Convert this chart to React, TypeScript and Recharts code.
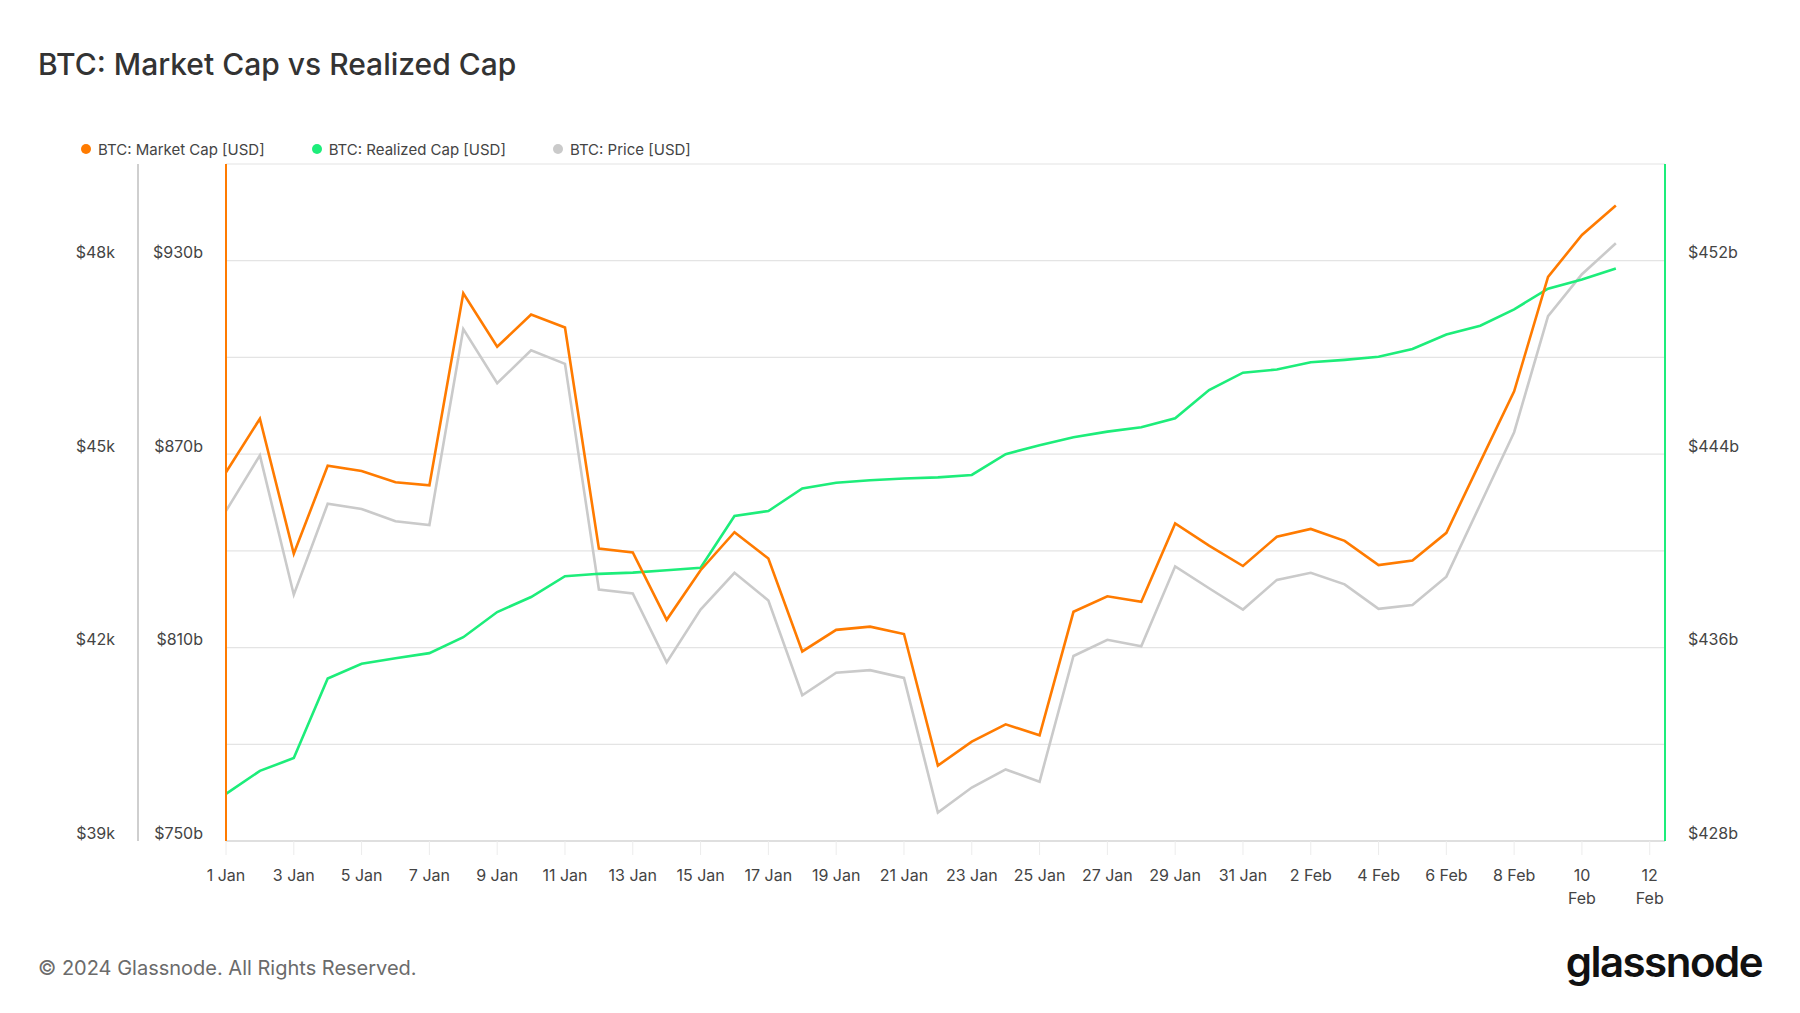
import React from "react";
import { LineChart, Line, XAxis, YAxis, CartesianGrid } from "recharts";

const dates = [
  "1 Jan", "2 Jan", "3 Jan", "4 Jan", "5 Jan", "6 Jan", "7 Jan", "8 Jan", "9 Jan", "10 Jan",
  "11 Jan", "12 Jan", "13 Jan", "14 Jan", "15 Jan", "16 Jan", "17 Jan", "18 Jan", "19 Jan", "20 Jan",
  "21 Jan", "22 Jan", "23 Jan", "24 Jan", "25 Jan", "26 Jan", "27 Jan", "28 Jan", "29 Jan", "30 Jan",
  "31 Jan", "1 Feb", "2 Feb", "3 Feb", "4 Feb", "5 Feb", "6 Feb", "7 Feb", "8 Feb", "9 Feb",
  "10 Feb", "11 Feb",
];

// BTC Market Cap, billions USD
const marketCap = [
  864.4, 881.0, 839.1, 866.4, 864.8, 861.3, 860.3, 919.9, 903.3, 913.3,
  909.3, 840.7, 839.5, 818.6, 834.0, 845.8, 837.6, 808.8, 815.5, 816.5,
  814.2, 773.4, 780.8, 786.2, 782.8, 821.1, 825.9, 824.2, 848.5, 841.6,
  835.3, 844.4, 846.8, 843.1, 835.6, 837.0, 845.6, 867.6, 889.5, 925.0,
  938.0, 947.1,
];

// BTC Realized Cap, billions USD
const realizedCap = [
  429.95, 430.9, 431.43, 434.72, 435.33, 435.56, 435.77, 436.43, 437.47, 438.09,
  438.95, 439.05, 439.1, 439.2, 439.3, 441.44, 441.65, 442.58, 442.82, 442.92,
  442.99, 443.04, 443.14, 444.0, 444.37, 444.7, 444.93, 445.11, 445.48, 446.65,
  447.37, 447.5, 447.8, 447.9, 448.03, 448.35, 448.95, 449.31, 449.99, 450.84,
  451.22, 451.68,
];

// BTC Price, thousands USD
const price = [
  44.12, 44.98, 42.82, 44.23, 44.15, 43.96, 43.9, 46.94, 46.1, 46.61,
  46.4, 42.9, 42.84, 41.77, 42.59, 43.16, 42.73, 41.26, 41.61, 41.65,
  41.53, 39.44, 39.83, 40.11, 39.92, 41.87, 42.12, 42.02, 43.26, 42.92,
  42.59, 43.05, 43.16, 42.98, 42.6, 42.66, 43.1, 44.22, 45.34, 47.14,
  47.79, 48.27,
];

const xTicks = [0, 2, 4, 6, 8, 10, 12, 14, 16, 18, 20, 22, 24, 26, 28, 30, 32, 34, 36, 38, 40, 42];
const xTickLabels = [
  "1 Jan", "3 Jan", "5 Jan", "7 Jan", "9 Jan", "11 Jan", "13 Jan", "15 Jan", "17 Jan", "19 Jan",
  "21 Jan", "23 Jan", "25 Jan", "27 Jan", "29 Jan", "31 Jan", "2 Feb", "4 Feb", "6 Feb", "8 Feb",
  "10\nFeb", "12\nFeb",
];
const mcTicks = [750, 780, 810, 840, 870, 900, 930, 960];
const mcLabelled = [750, 810, 870, 930];
const priceTicks = [39, 42, 45, 48];
const realizedTicks = [428, 436, 444, 452];

const legendItems = [
  { name: "BTC: Market Cap [USD]", color: "#ff7b00" },
  { name: "BTC: Realized Cap [USD]", color: "#1ded7a" },
  { name: "BTC: Price [USD]", color: "#cacaca" },
];

const data = dates.map((d, i) => ({
  day: i,
  date: d,
  mc: marketCap[i],
  rc: realizedCap[i],
  price: price[i],
}));

const FONT = "Inter, 'Noto Sans', sans-serif";
const TICK_COLOR = "#444";

const XTick = (props: any) => {
  const { x, y, payload } = props;
  const idx = xTicks.indexOf(payload.value);
  const label = idx >= 0 ? xTickLabels[idx] : "";
  const lines = label.split("\n");
  return (
    <text x={x} y={y} textAnchor="middle" fill={TICK_COLOR} fontSize={16} fontFamily={FONT}>
      {lines.map((l, i) => (
        <tspan key={i} x={x} dy={i === 0 ? "0.71em" : 23}>
          {l}
        </tspan>
      ))}
    </text>
  );
};

const makeYTick = (fmt: (v: number) => string, anchor: string) => (props: any) => {
  const { x, y, payload } = props;
  const s = fmt(payload.value);
  if (!s) return <g />;
  return (
    <text x={x} y={y - 8} dy="0.355em" textAnchor={anchor} fill={TICK_COLOR} fontSize={16} fontFamily={FONT}>
      {s}
    </text>
  );
};

const McTick = makeYTick((v) => (mcLabelled.includes(v) ? `$${v}b` : ""), "end");
const PriceTick = makeYTick((v) => `$${v}k`, "end");
const RcTick = makeYTick((v) => `$${v}b`, "start");

export default function App() {
  return (
    <div
      style={{
        position: "absolute",
        left: 0,
        top: 0,
        width: 1800,
        height: 1013,
        background: "#ffffff",
        fontFamily: FONT,
        overflow: "hidden",
      }}
    >
      <div
        style={{
          position: "absolute",
          left: 38,
          top: 49,
          fontSize: 30,
          lineHeight: "30px",
          fontWeight: 500,
          color: "#333",
          whiteSpace: "nowrap",
        }}
      >
        BTC: Market Cap vs Realized Cap
      </div>

      <div
        style={{
          position: "absolute",
          left: 81,
          top: 140,
          height: 18,
          display: "flex",
          alignItems: "center",
          gap: 47,
          fontSize: 15,
          color: "#444",
          whiteSpace: "nowrap",
        }}
      >
        {legendItems.map((it) => (
          <div key={it.name} style={{ display: "flex", alignItems: "center", gap: 7 }}>
            <span
              style={{
                width: 10,
                height: 10,
                borderRadius: 5,
                background: it.color,
                display: "inline-block",
              }}
            />
            <span>{it.name}</span>
          </div>
        ))}
      </div>

      <div style={{ position: "absolute", left: 0, top: 0 }}>
        <LineChart
          width={1800}
          height={1013}
          data={data}
          margin={{ top: 164, right: 45, bottom: 142, left: 50 }}
        >
          <CartesianGrid yAxisId="mc" vertical={false} stroke="#e4e4e4" strokeWidth={1.2} />
          <XAxis
            dataKey="day"
            type="number"
            domain={[0, 42.45]}
            ticks={xTicks}
            allowDataOverflow
            interval={0}
            axisLine={{ stroke: "#d9d9d9", strokeWidth: 1.5 }}
            tickLine={{ stroke: "#ececec", strokeWidth: 1 }}
            tickSize={14}
            tickMargin={15}
            tick={<XTick />}
            height={30}
          />
          <YAxis
            yAxisId="mc"
            orientation="left"
            width={88}
            domain={[750, 960]}
            ticks={mcTicks}
            interval={0}
            allowDataOverflow
            axisLine={{ stroke: "#ff7b00", strokeWidth: 2 }}
            tickLine={false}
            tickSize={0}
            tickMargin={23}
            tick={<McTick />}
          />
          <YAxis
            yAxisId="price"
            orientation="left"
            width={88}
            domain={[39, 49.5]}
            ticks={priceTicks}
            interval={0}
            allowDataOverflow
            axisLine={{ stroke: "#cfcfcf", strokeWidth: 2 }}
            tickLine={false}
            tickSize={0}
            tickMargin={23}
            tick={<PriceTick />}
          />
          <YAxis
            yAxisId="rc"
            orientation="right"
            width={90}
            domain={[428, 456]}
            ticks={realizedTicks}
            interval={0}
            allowDataOverflow
            axisLine={{ stroke: "#1ded7a", strokeWidth: 2 }}
            tickLine={false}
            tickSize={0}
            tickMargin={23}
            tick={<RcTick />}
          />
          <Line
            yAxisId="price"
            dataKey="price"
            type="linear"
            stroke="#cacaca"
            strokeWidth={2.6}
            dot={false}
            isAnimationActive={false}
          />
          <Line
            yAxisId="rc"
            dataKey="rc"
            type="linear"
            stroke="#1ded7a"
            strokeWidth={2.6}
            dot={false}
            isAnimationActive={false}
          />
          <Line
            yAxisId="mc"
            dataKey="mc"
            type="linear"
            stroke="#ff7b00"
            strokeWidth={2.6}
            dot={false}
            isAnimationActive={false}
          />
        </LineChart>
      </div>

      <div
        style={{
          position: "absolute",
          left: 38,
          top: 956,
          fontSize: 20,
          lineHeight: "24px",
          color: "#6b6b6b",
          whiteSpace: "nowrap",
        }}
      >
        © 2024 Glassnode. All Rights Reserved.
      </div>
      <div
        style={{
          position: "absolute",
          right: 38,
          top: 940,
          fontSize: 42,
          lineHeight: "44px",
          fontWeight: 600,
          letterSpacing: -1.5,
          color: "#111",
          whiteSpace: "nowrap",
        }}
      >
        glassnode
      </div>
    </div>
  );
}
